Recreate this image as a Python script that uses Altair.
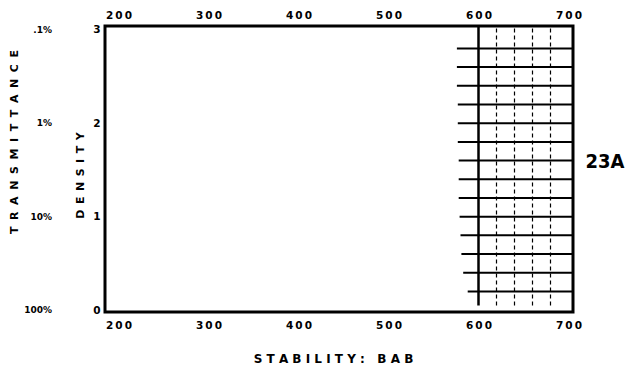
import altair as alt
import pandas as pd

# ---- data ----
x_ticks = [200, 300, 400, 500, 600, 700]
density_ticks = [0, 1, 2, 3]
trans_density = [3, 2, 1, 0]
trans_labels = [".1%", "1%", "10%", "100%"]

grid_density = [2.8, 2.6, 2.4, 2.2, 2.0, 1.8, 1.6, 1.4, 1.2, 1.0, 0.8, 0.6, 0.4, 0.2]
grid_start = [576, 576, 576, 577, 577, 577, 578, 578, 578, 579, 580, 581, 583, 588]
grid_end = [705, 705, 705, 705, 705, 705, 705, 705, 705, 705, 705, 705, 705, 705]

vgrid_solid = [600]
vgrid_dashed = [620, 640, 660, 680]
vgrid_low = [0.05]
vgrid_high = [3.04]

x_domain = [185, 705]
y_domain = [-0.02, 3.04]

FONT = "DejaVu Sans"
W, H = 468, 286

xs = alt.Scale(domain=x_domain, nice=False, zero=False)
ys = alt.Scale(domain=y_domain, nice=False, zero=False)

x_axis_common = dict(
    values=x_ticks, tickSize=0, domain=False, grid=False,
    labelFont=FONT, labelFontWeight="bold", labelFontSize=10.5, labelColor="black",
    labelExpr="join(split(datum.label, ''), '\u2009')",
)

hgrid_df = pd.DataFrame({"d": grid_density, "x0": grid_start, "x1": grid_end})
hrules = alt.Chart(hgrid_df).mark_rule(color="black", strokeWidth=2).encode(
    x=alt.X("x0:Q", scale=xs, axis=alt.Axis(
        orient="bottom", labelPadding=8,
        title="S T A B I L I T Y :\u00a0\u00a0 B A B",
        titleFont=FONT, titleFontSize=12, titleFontWeight="bold", titleColor="black",
        titleY=46, titleX=228, titleBaseline="middle",
        **x_axis_common)),
    x2="x1:Q",
    y=alt.Y("d:Q", scale=ys, axis=alt.Axis(
        orient="left",
        values=density_ticks, tickSize=0, domain=False, grid=False,
        labelFont=FONT, labelFontWeight="bold", labelFontSize=10.5, labelColor="black",
        labelPadding=5,
        title="D\u2002E\u2002N\u2002S\u2002I\u2002T\u2002Y",
        titleFont=FONT, titleFontSize=11, titleFontWeight="bold", titleColor="black",
        titleX=-25, titleY=149, titleBaseline="middle", titleAngle=270)),
)

vsolid_df = pd.DataFrame({"v": vgrid_solid, "lo": vgrid_low, "hi": vgrid_high})
vsolid = alt.Chart(vsolid_df).mark_rule(color="black", strokeWidth=2.5).encode(
    x=alt.X("v:Q", scale=xs, axis=alt.Axis(orient="top", labelPadding=6, title=None,
                                           **x_axis_common)),
    y=alt.Y("lo:Q", scale=ys, axis=None),
    y2="hi:Q",
)

vdash_df = pd.DataFrame({"v": vgrid_dashed,
                         "lo": vgrid_low * len(vgrid_dashed),
                         "hi": vgrid_high * len(vgrid_dashed)})
vdash = alt.Chart(vdash_df).mark_rule(color="black", strokeWidth=1.2, strokeDash=[4, 3]).encode(
    x=alt.X("v:Q", scale=xs, axis=None),
    y=alt.Y("lo:Q", scale=ys, axis=None),
    y2="hi:Q",
)

trans_df = pd.DataFrame({"d": trans_density, "lab": trans_labels})
trans_text = alt.Chart(trans_df).mark_text(
    align="right", baseline="middle", font=FONT, fontSize=9, fontWeight="bold", color="black"
).encode(
    x=alt.value(-53),
    y=alt.Y("d:Q", scale=ys, axis=None),
    text="lab:N",
)

SP = "\u2002\u200a"
trans_title = alt.Chart(pd.DataFrame({"t": [SP.join("TRANSMITTANCE")]})).mark_text(
    angle=270, align="center", baseline="middle", font=FONT, fontSize=11,
    fontWeight="bold", color="black"
).encode(x=alt.value(-90), y=alt.value(116), text="t:N")

fig_label = alt.Chart(pd.DataFrame({"t": ["23A"]})).mark_text(
    align="center", baseline="middle",
    font="DejaVu Sans Condensed, Liberation Sans Narrow, DejaVu Sans",
    fontSize=20, fontWeight="bold", color="black"
).encode(x=alt.value(500), y=alt.value(136), text="t:N")

chart = alt.layer(hrules, vsolid, vdash, trans_text, trans_title, fig_label).resolve_axis(
    y="independent"
).properties(
    width=W, height=H,
    autosize=alt.AutoSizeParams(type="none"),
    padding={"left": 97, "top": 18, "right": 54, "bottom": 61},
).configure(
    background="white",
    view=alt.ViewConfig(stroke="black", strokeWidth=3),
)

chart.save("out.html", embed_options={"renderer": "svg", "actions": False})
